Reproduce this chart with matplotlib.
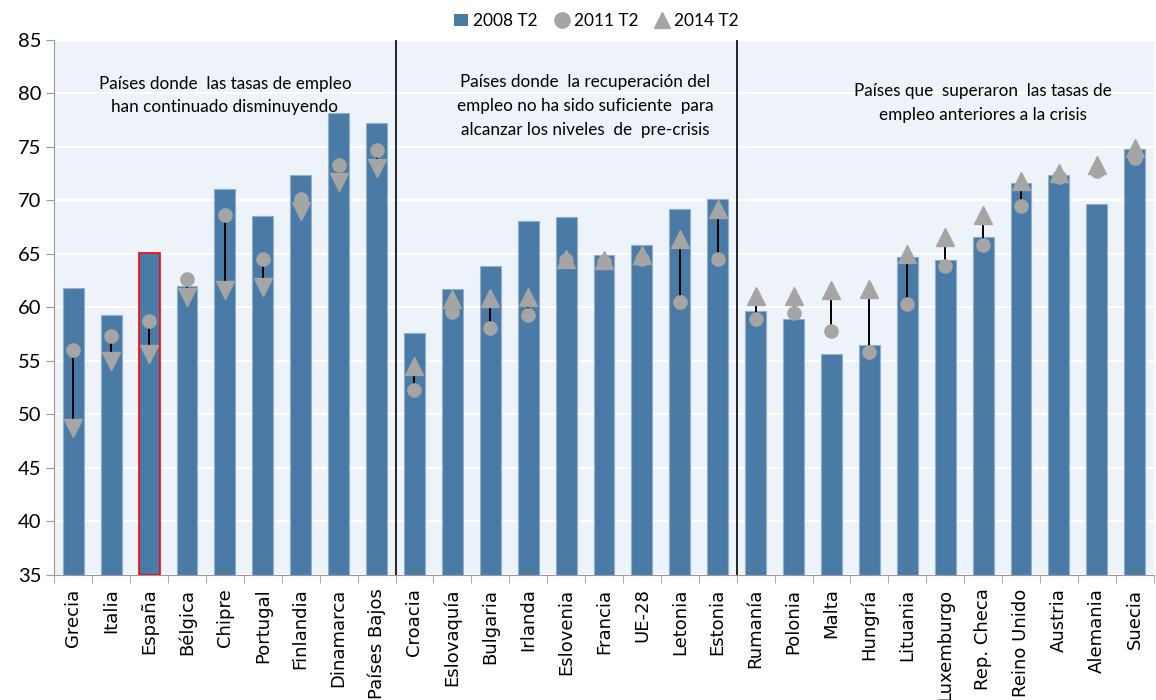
""" Tasas de empleo 2008 T2, 2011 T2 y 2014 T2 por país.
"""

import matplotlib
matplotlib.use('Agg')
import matplotlib.pyplot as plt
from matplotlib.lines import Line2D
from matplotlib.patches import Patch


paises = ['Grecia', 'Italia', 'España', 'Bélgica', 'Chipre', 'Portugal',
          'Finlandia', 'Dinamarca', 'Países Bajos',
          'Croacia', 'Eslovaquía', 'Bulgaria', 'Irlanda', 'Eslovenia',
          'Francia', 'UE-28', 'Letonia', 'Estonia',
          'Rumanía', 'Polonia', 'Malta', 'Hungría', 'Lituania', 'Luxemburgo',
          'Rep. Checa', 'Reino Unido', 'Austria', 'Alemania', 'Suecia']

t2008 = [61.8, 59.3, 65.1, 62.0, 71.1, 68.5, 72.4, 78.2, 77.2,
         57.6, 61.7, 63.9, 68.1, 68.4, 64.9, 65.8, 69.2, 70.1,
         59.7, 58.9, 55.6, 56.5, 64.7, 64.4, 66.6, 71.6, 72.4, 69.7, 74.8]

t2011 = [56.0, 57.3, 58.7, 62.6, 68.6, 64.5, 70.1, 73.3, 74.7,
         52.3, 59.6, 58.1, 59.3, 64.4, 64.2, 64.5, 60.5, 64.5,
         58.9, 59.5, 57.8, 55.8, 60.3, 63.9, 65.8, 69.5, 72.2, 72.7, 74.0]

t2014 = [48.7, 55.0, 55.6, 61.0, 61.6, 61.9, 69.0, 71.7, 73.0,
         54.5, 60.8, 60.9, 61.0, 64.5, 64.4, 64.9, 66.4, 69.2,
         61.1, 61.1, 61.6, 61.7, 65.0, 66.6, 68.6, 71.8, 72.6, 73.3, 74.9]

grupos = [
    'Países donde  las tasas de empleo\nhan continuado disminuyendo',
    'Países donde  la recuperación del\nempleo no ha sido suficiente  para\n'
    'alcanzar los niveles  de  pre-crisis',
    'Países que  superaron  las tasas de\nempleo anteriores a la crisis',
]
cortes = [9, 18]

BAR = '#4a7ba7'
GRIS = '#a5a5a5'
FONDO = '#eef2f9'
TXT = 'Lato'


def create_graph(filename: str):
    """ I create the graph """
    fig = plt.figure(figsize=(11.56, 7.0), dpi=100)
    ax = fig.add_axes([0.047, 0.179, 0.951, 0.764])
    ax.set_facecolor(FONDO)

    x = list(range(len(paises)))
    bars = ax.bar(x, [v - 35 for v in t2008], bottom=35, width=0.55,
                  color=BAR, edgecolor='#8fb0cf', linewidth=0.8, zorder=2)
    bars[paises.index('España')].set_edgecolor('red')
    bars[paises.index('España')].set_linewidth(1.2)

    for i in x:
        ax.plot([i, i], [t2011[i], t2014[i]], color='black', lw=1.4, zorder=3)
    ax.plot(x, t2011, linestyle='none', marker='o', markersize=9.5,
            color=GRIS, zorder=4)
    for i in x:
        mk = 'v' if t2014[i] < t2011[i] else '^'
        ax.plot(i, t2014[i], linestyle='none', marker=mk, markersize=13.5,
                color=GRIS, zorder=5)

    for c in cortes:
        ax.axvline(c - 0.5, color='black', lw=1.2, zorder=6)

    ax.set_xlim(-0.5, len(paises) - 0.5)
    ax.set_ylim(35, 85)
    ax.set_yticks(range(35, 86, 5))
    ax.yaxis.grid(True, color='white', lw=1.5, zorder=0)
    ax.set_axisbelow(True)
    ax.set_xticks(x)
    ax.set_xticklabels(paises, rotation=90, fontsize=13,
                       family='DejaVu Sans')
    ax.tick_params(axis='x', length=0, pad=10)
    ax.set_xticks([i - 0.5 for i in x] + [len(paises) - 0.5], minor=True)
    ax.tick_params(axis='x', which='minor', length=6, color='#999999')
    ax.tick_params(axis='y', labelsize=14.5, length=6, color='#999999')
    for lab in ax.get_yticklabels():
        lab.set_family(TXT)
    for s in ['top', 'right']:
        ax.spines[s].set_visible(False)
    for s in ['left', 'bottom']:
        ax.spines[s].set_color('#999999')

    centros = [4.0, 13.5, 24.0]
    alturas = [79.8, 78.8, 79.1]
    for txt, cx, cy in zip(grupos, centros, alturas):
        ax.text(cx, cy, txt, ha='center', va='center', fontsize=12.3,
                family=TXT, linespacing=1.6, zorder=7)

    handles = [
        Patch(facecolor=BAR, label='2008 T2'),
        Line2D([], [], linestyle='none', marker='o', markersize=11,
               color=GRIS, label='2011 T2'),
        Line2D([], [], linestyle='none', marker='^', markersize=11,
               color=GRIS, label='2014 T2'),
    ]
    fig.legend(handles=handles, loc='center', bbox_to_anchor=(0.516, 0.97),
               ncol=3, frameon=False, prop={'family': TXT, 'size': 12.4},
               handlelength=0.8, handletextpad=0.3, columnspacing=1.0)

    fig.savefig(filename, dpi=100)


if __name__ == '__main__':
    create_graph('out.png')
